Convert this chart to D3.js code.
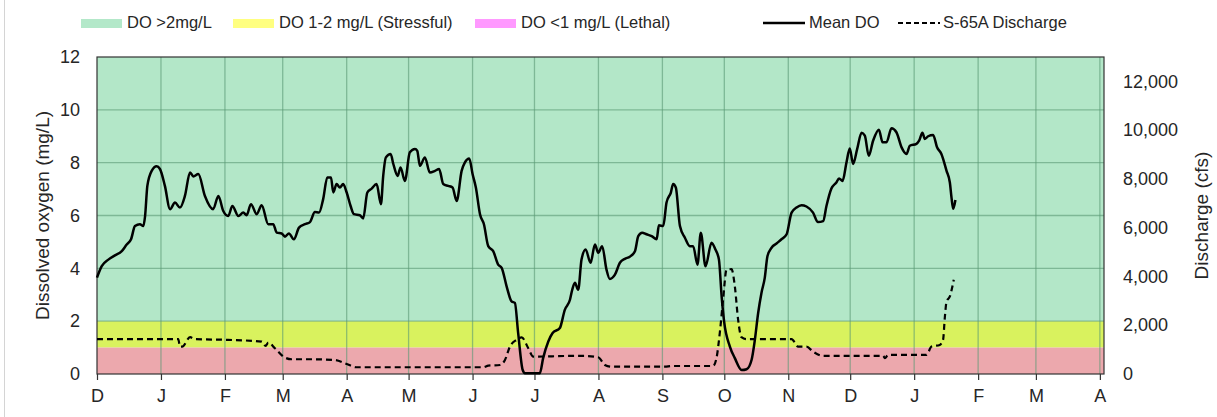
<!DOCTYPE html>
<html>
<head>
<meta charset="utf-8">
<script src="https://cdn.jsdelivr.net/npm/d3@7"></script>
<style>
  body { margin: 0; background: #fff; }
  text { font-family: "Liberation Sans", Arial, sans-serif; fill: #262626; }
</style>
</head>
<body>
<svg id="chart" width="1217" height="417"></svg>
<script>
// days since 1 Dec 2021 and mean dissolved oxygen (mg/L)
var doDays = [0, 2.3, 5.5, 8.7, 12.0, 14.4, 16.5, 18.4, 20.8, 22.4, 23.3, 24.4, 26.5, 28.9, 30.5, 32.9, 35.4, 37.8, 40.2, 42.6,
  45.1, 46.7, 49.1, 52.3, 56.3, 58.8, 61.2, 63.6, 65.6, 68.5, 70.9, 72.5, 74.6, 77.4, 79.8, 83.0, 85.4, 87.1, 89.5, 91.1,
  93.0, 95.4, 97.9, 100.8, 103.2, 105.6, 107.6, 109.6, 111.6, 113.4, 114.5, 116.1, 117.7, 119.3, 121.0, 122.9, 124.5, 127.4, 129.0, 131.0,
  133.1, 135.5, 137.6, 138.7, 140.0, 142.3, 143.6, 145.7, 147.1, 149.2, 151.6, 154.1, 155.2, 156.5, 158.9, 161.3, 163.8, 165.8, 167.8, 170.2,
  172.3, 174.3, 176.7, 178.3, 180.4, 182.0, 183.6, 185.6, 187.5, 189.6, 192.0, 194.4, 196.1, 198.5, 200.9, 202.5, 204.1, 206.3, 207.4, 214.6,
  216.2, 218.7, 220.8, 224.3, 226.7, 229.2, 230.3, 231.6, 233.2, 234.8, 236.8, 239.2, 241.3, 242.9, 244.8, 246.9, 248.5, 251.0, 253.4, 255.8,
  258.2, 260.7, 262.3, 264.2, 266.3, 268.8, 271.2, 272.3, 274.4, 276.0, 278.1, 279.2, 280.5, 282.5, 284.9, 287.3, 288.9, 291.0, 292.6, 294.9,
  297.8, 299.7, 301.4, 302.7, 303.9, 306.7, 309.1, 312.4, 314.8, 317.2, 318.8, 320.4, 322.0, 323.6, 324.9, 326.9, 329.3, 331.7, 334.2, 336.6,
  339.0, 341.4, 343.8, 347.0, 349.4, 351.9, 353.5, 355.9, 358.3, 359.6, 361.3, 363.2, 364.8, 366.4, 368.4, 370.5, 372.1, 374.0, 376.1, 378.9,
  380.7, 382.6, 385.0, 387.4, 389.9, 392.3, 393.9, 397.1, 398.4, 400.0, 401.2, 402.8, 405.2, 407.1, 409.2, 411.7, 413.3, 414.1, 414.9, 416.0];
var doMean = [3.65, 4.08, 4.33, 4.49, 4.65, 4.90, 5.10, 5.60, 5.67, 5.60, 5.98, 7.12, 7.69, 7.86, 7.76, 7.12, 6.24, 6.49, 6.30, 6.74,
  7.63, 7.48, 7.57, 6.74, 6.24, 6.74, 6.17, 5.98, 6.36, 5.98, 6.11, 6.01, 6.43, 6.05, 6.39, 5.67, 5.67, 5.35, 5.32, 5.20,
  5.32, 5.10, 5.54, 5.67, 5.75, 6.13, 6.11, 6.62, 7.44, 7.44, 6.87, 7.19, 7.06, 7.19, 6.87, 6.36, 6.05, 6.01, 5.89, 6.87,
  7.02, 7.19, 6.43, 7.50, 8.20, 8.33, 7.95, 7.50, 7.82, 7.31, 8.39, 8.52, 8.45, 7.88, 8.20, 7.63, 7.69, 7.76, 7.19, 7.12,
  7.06, 6.55, 7.69, 8.01, 8.16, 7.57, 7.06, 6.05, 5.67, 4.84, 4.65, 4.14, 4.02, 3.32, 2.75, 2.69, 1.55, 0.15, 0.03, 0.03,
  0.60, 1.23, 1.55, 1.74, 2.43, 2.81, 3.19, 3.45, 3.19, 4.33, 4.71, 4.21, 4.90, 4.59, 4.84, 3.95, 3.60, 3.76, 4.21, 4.36,
  4.44, 4.65, 5.22, 5.35, 5.29, 5.22, 5.10, 5.63, 5.60, 6.49, 6.87, 7.19, 7.06, 5.60, 5.16, 4.84, 4.84, 4.14, 5.35, 4.08,
  4.97, 4.71, 4.33, 2.94, 1.99, 1.04, 0.60, 0.15, 0.18, 0.53, 1.29, 2.31, 3.07, 3.64, 4.46, 4.78, 4.94, 5.10, 5.29, 6.11,
  6.30, 6.39, 6.34, 6.11, 5.75, 5.79, 6.36, 7.02, 7.25, 7.40, 7.31, 8.01, 8.54, 7.95, 8.52, 9.13, 9.02, 8.26, 8.83, 9.25,
  8.77, 8.77, 9.30, 9.15, 8.58, 8.33, 8.64, 8.71, 8.83, 9.13, 8.90, 9.00, 9.05, 8.58, 8.33, 7.69, 7.25, 6.68, 6.26, 6.59];

// days since 1 Dec 2021 and S-65A discharge (cfs)
var qDays = [0, 39.4, 40.2, 41.3, 45.1, 47.5, 63.6, 79.8, 81.7, 83.0, 86.2, 91.1, 94.3, 102.4, 115.3, 121.0, 125.8, 187.2, 189.6, 195.3,
  197.7, 200.1, 203.3, 205.8, 209.0, 211.4, 229.2, 236.4, 242.9, 246.1, 249.4, 275.2, 278.4, 298.6, 300.2, 301.8, 303.4, 305.1, 307.5, 309.1,
  310.7, 312.3, 314.8, 336.6, 339.8, 343.8, 347.0, 351.9, 381.0, 381.8, 383.4, 402.0, 404.4, 408.4, 410.0, 410.9, 411.7, 413.3, 415.2];
var qCfs = [1430, 1430, 1124, 1124, 1510, 1430, 1400, 1330, 1152, 1290, 1058, 672, 605, 605, 576, 412, 276, 276, 342, 370,
  576, 1124, 1400, 1500, 1058, 712, 740, 740, 687, 370, 300, 300, 329, 329, 646, 1675, 3045, 4280, 4300, 3593,
  2222, 1510, 1428, 1428, 1124, 1124, 918, 740, 740, 646, 782, 782, 1124, 1193, 1400, 2358, 2975, 3181, 3868];

var doTicks = [0, 2, 4, 6, 8, 10, 12];
var qTicks = [0, 2000, 4000, 6000, 8000, 10000, 12000];
var zones = [
  {lo: 2, hi: 12, fill: "#b3e7c8", key: "#b3e8c9", name: "DO >2mg/L"},
  {lo: 1, hi: 2, fill: "#d9f25e", key: "#ffff80", name: "DO 1-2 mg/L (Stressful)"},
  {lo: 0, hi: 1, fill: "#eca8ad", key: "#ff99ff", name: "DO <1 mg/L (Lethal)"}
];

var start = new Date(2021, 11, 1);
function dayToDate(d) { return new Date(start.getTime() + d * 864e5); }

var svg = d3.select("#chart"),
  pLeft = 97, pRight = 1104, pTop = 57, pBottom = 374;

var x = d3.scaleTime().domain([start, new Date(2023, 3, 3)]).range([pLeft, pRight]);
var y = d3.scaleLinear().domain([0, 12]).range([pBottom, pTop]);
var y2 = d3.scaleLinear().domain([0, 13000]).range([pBottom, pTop]);

// thin frame line at the far left
svg.append("line").attr("x1", 4.5).attr("x2", 4.5).attr("y1", 0).attr("y2", 417)
  .attr("stroke", "#d4d4d4");

// DO zones
svg.selectAll(".zone").data(zones).enter().append("rect")
  .attr("class", "zone")
  .attr("x", pLeft).attr("width", pRight - pLeft)
  .attr("y", function(d) { return y(d.hi); })
  .attr("height", function(d) { return y(d.lo) - y(d.hi); })
  .attr("fill", function(d) { return d.fill; });

var months = d3.timeMonth.range(start, new Date(2023, 3, 2));

// grid
var grid = svg.append("g").attr("stroke", "#5a9a74").attr("stroke-opacity", 0.6).attr("stroke-width", 1.3);
grid.selectAll(".vg").data(months.slice(1)).enter().append("line")
  .attr("x1", function(d) { return x(d); }).attr("x2", function(d) { return x(d); })
  .attr("y1", pTop).attr("y2", pBottom);
grid.selectAll(".hg").data(doTicks.slice(1, -1)).enter().append("line")
  .attr("x1", pLeft).attr("x2", pRight)
  .attr("y1", function(d) { return y(d); }).attr("y2", function(d) { return y(d); });

svg.append("rect").attr("x", pLeft).attr("y", pTop).attr("width", pRight - pLeft).attr("height", pBottom - pTop)
  .attr("fill", "none").attr("stroke", "#333").attr("stroke-width", 1.2);

// axes
var xAxis = svg.append("g")
  .attr("transform", "translate(0," + pBottom + ")")
  .call(d3.axisBottom(x).tickValues(months).tickSize(6).tickPadding(9)
    .tickFormat(function(d) { return d3.timeFormat("%b")(d)[0]; }));
xAxis.select(".domain").remove();
xAxis.selectAll("line").attr("stroke", "#333").attr("stroke-width", 1.2);
xAxis.selectAll("text").attr("font-size", "18px").attr("font-family", null);

var yAxis = svg.append("g")
  .attr("transform", "translate(" + pLeft + ",0)")
  .call(d3.axisLeft(y).tickValues(doTicks).tickSize(0).tickPadding(17));
yAxis.select(".domain").remove();
yAxis.selectAll("text").attr("font-size", "18px").attr("font-family", null);

var y2Axis = svg.append("g")
  .attr("transform", "translate(" + pRight + ",0)")
  .call(d3.axisRight(y2).tickValues(qTicks).tickSize(0).tickPadding(19).tickFormat(d3.format(",")));
y2Axis.select(".domain").remove();
y2Axis.selectAll("text").attr("font-size", "18px").attr("font-family", null);

svg.append("text")
  .attr("transform", "translate(49," + (pTop + pBottom) / 2 + ") rotate(-90)")
  .attr("text-anchor", "middle").attr("font-size", "19px")
  .text("Dissolved oxygen (mg/L)");
svg.append("text")
  .attr("transform", "translate(1208," + (pTop + pBottom) / 2 + ") rotate(-90)")
  .attr("text-anchor", "middle").attr("font-size", "19px")
  .text("Discharge (cfs)");

// lines
var doData = doDays.map(function(d, i) { return {date: dayToDate(d), v: doMean[i]}; });
var qData = qDays.map(function(d, i) { return {date: dayToDate(d), v: qCfs[i]}; });

svg.append("path").datum(qData)
  .attr("fill", "none").attr("stroke", "#000").attr("stroke-width", 2.2)
  .attr("stroke-dasharray", "6,4")
  .attr("d", d3.line().curve(d3.curveMonotoneX)
    .x(function(d) { return x(d.date); }).y(function(d) { return y2(d.v); }));

svg.append("path").datum(doData)
  .attr("fill", "none").attr("stroke", "#000").attr("stroke-width", 2.5)
  .attr("stroke-linejoin", "round")
  .attr("d", d3.line().curve(d3.curveMonotoneX)
    .x(function(d) { return x(d.date); }).y(function(d) { return y(d.v); }));

// legend
var lg = svg.append("g").attr("font-size", "16.5px");
var keyX = [81, 233, 475];
zones.forEach(function(z, i) {
  lg.append("rect").attr("x", keyX[i]).attr("y", 19).attr("width", 41).attr("height", 9).attr("fill", z.key);
  lg.append("text").attr("x", keyX[i] + 46).attr("y", 28).text(z.name);
});
lg.append("line").attr("x1", 763).attr("x2", 805).attr("y1", 23).attr("y2", 23)
  .attr("stroke", "#000").attr("stroke-width", 2.5);
lg.append("text").attr("x", 809).attr("y", 28).text("Mean DO");
lg.append("line").attr("x1", 898).attr("x2", 940).attr("y1", 23).attr("y2", 23)
  .attr("stroke", "#000").attr("stroke-width", 2.2).attr("stroke-dasharray", "5,3");
lg.append("text").attr("x", 943).attr("y", 28).text("S-65A Discharge");
</script>
</body>
</html>
